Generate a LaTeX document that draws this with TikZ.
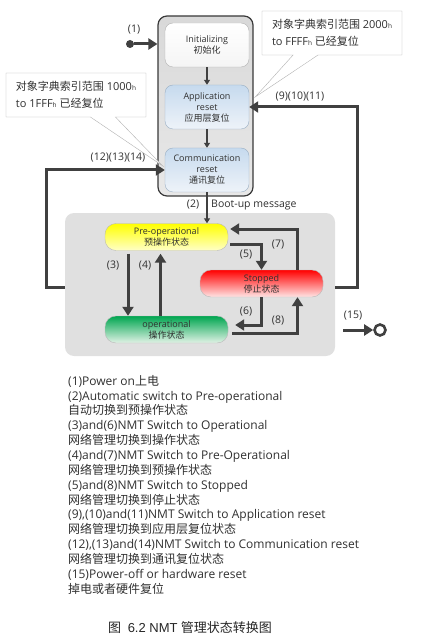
\documentclass[tikz,border=0pt]{standalone}
\usepackage{fontspec}
\setmainfont{Open Sans}
\newfontfamily\cjk{Noto Sans CJK SC}
\newfontfamily\capfont{Liberation Sans}
\usepackage{xcolor}
\usetikzlibrary{arrows.meta}
\usetikzlibrary{calc}
\usetikzlibrary{shapes.callouts,shadings}

\definecolor{arrowgray}{HTML}{404040}
\definecolor{textgray}{HTML}{303030}
\definecolor{resettop}{HTML}{C6DAEE}
\definecolor{resetbot}{HTML}{EEF3F9}
\definecolor{resetline}{HTML}{9AAFC4}
\definecolor{opertop}{HTML}{00A650}
\definecolor{operbot}{HTML}{E2F2E6}
\newcommand{\hsub}{{\fontsize{6.5}{7}\selectfont h}}

\begin{document}
\begin{tikzpicture}[x=1pt,y=-1pt,
		resetbox/.style={draw=#1, rounded corners=8pt, minimum width=84pt,
			minimum height=44pt, align=center, inner sep=1pt, text=textgray,
			font=\fontsize{9}{11}\selectfont},
		statebox/.style={draw=gray!55, rounded corners=11pt, minimum width=123pt,
			minimum height=27pt, align=center, inner sep=1pt, text=textgray,
			font=\fontsize{9}{11}\selectfont},
		bigarrow/.style={draw=arrowgray, line width=3pt, -{Triangle[length=9pt,width=11pt]}},
		thinarrow/.style={draw=arrowgray, line width=1.3pt, -{Triangle[length=5pt,width=6pt]}},
		note/.style={rectangle callout, draw=gray!60, fill=white, minimum width=140pt,
			minimum height=44pt, align=left, inner sep=4pt, callout pointer width=25pt,
			font=\fontsize{11}{17}\selectfont, text=textgray},
		lbl/.style={inner sep=0pt, text=textgray, font=\fontsize{10.5}{12}\selectfont}]
		
		\useasboundingbox (0,0) rectangle (422,644);
		
		% Reset group (gray frame)
		\node[draw=gray!45!black, line width=1.2pt, rounded corners=9pt,
		top color=gray!30, bottom color=gray!18, minimum width=95pt,
		minimum height=180pt] (resetgroup) at (205.5,106) {};
		
		% Operating group (light area)
		\node[fill=black!12, rounded corners=9pt, minimum width=270pt,
		minimum height=143pt] (opgroup) at (200,284.5) {};
		
		% Reset states
		\node[resetbox=gray!60, top color=white, bottom color=gray!8] (init) at (207,45)
		{Initializing\\{\cjk 初始化}};
		\node[resetbox=resetline, top color=resettop, bottom color=resetbot] (app) at (207,107)
		{Application\\reset\\{\cjk 应用层复位}};
		\node[resetbox=resetline, top color=resettop, bottom color=resetbot] (comm) at (207,170)
		{Communication\\reset\\{\cjk 通讯复位}};
		
		\draw[thinarrow] (init) -- (app);
		\draw[thinarrow] (app) -- (comm);
		
		% Operating states
		\node[statebox, top color=yellow, bottom color=yellow!22] (preop) at (166.5,237)
		{Pre-operational\\{\cjk 预操作状态}};
		\node[statebox, top color=red, bottom color=red!10] (stopped) at (261.5,283.5)
		{Stopped\\{\cjk 停止状态}};
		\node[statebox, top color=opertop, bottom color=operbot] (oper) at (166.5,329.5)
		{operational\\{\cjk 操作状态}};
		
		% (1) power on
		\node[circle, fill=arrowgray, minimum size=8pt, inner sep=0pt] (start) at (130,44) {};
		\draw[bigarrow] (start) -- (start -| resetgroup.west);
		\node[lbl] (lbl1) at (134,30) {(1)};
		
		% (2) boot-up
		\draw[thinarrow] (comm.south) -- (comm.south |- preop.north);
		\node[lbl] (lbl2) at (193,205) {(2)};
		\node[lbl, anchor=west] (boot) at (211,205) {Boot-up message};
		
		% (3) and (4)
		\draw[bigarrow, shorten <=3pt] ([xshift=-38.5pt]preop.south) -- ([xshift=-38.5pt]oper.north);
		\draw[bigarrow] ([xshift=-6pt]oper.north) -- ([xshift=-6pt,yshift=-3pt]preop.south);
		\node[lbl] (lbl3) at (113,266) {(3)};
		\node[lbl] (lbl4) at (145,266) {(4)};
		
		% (5) and (7)
		\draw[bigarrow] ([xshift=2pt,yshift=-7pt]preop.east) -| (stopped.north);
		\draw[bigarrow] ([xshift=36pt]stopped.north) |- ([xshift=2pt,yshift=8pt]preop.east);
		\node[lbl] (lbl5) at (246,255) {(5)};
		\node[lbl] (lbl7) at (278,245) {(7)};
		
		% (6) and (8)
		\draw[bigarrow] (stopped.south) |- ([xshift=7pt,yshift=4.5pt]oper.east);
		\draw[bigarrow] ([xshift=4pt,yshift=-3.5pt]oper.east) -| ([xshift=36pt]stopped.south);
		\node[lbl] (lbl6) at (246,312) {(6)};
		\node[lbl] (lbl8) at (278,321) {(8)};
		
		% (9)(10)(11) back to application reset
		\draw[bigarrow] ([yshift=-2.5pt]opgroup.east) -- ++(22,0) |- (app.east);
		\node[lbl] (lbl9) at (300,97) {(9)(10)(11)};
		
		% (12)(13)(14) back to communication reset
		\draw[bigarrow] ([yshift=-2.5pt]opgroup.west) -- ++(-18,0) |- (comm.west);
		\node[lbl] (lbl12) at (118,158) {(12)(13)(14)};
		
		% (15) power off
		\node[circle, draw=arrowgray, line width=2.6pt, minimum size=11pt, inner sep=0pt] (finish) at (380,330) {};
		\coordinate (offstart) at (343,330);
		\draw[bigarrow] (offstart) -- (finish.west);
		\node[lbl] (lbl15) at (353,316) {(15)};
		
		% Callouts
		\node[note, callout absolute pointer={($(app.east)+(6,-10)$)}] (noteapp) at (332,33)
		{{\cjk 对象字典索引范围} 2000\hsub\\to FFFF\hsub{} {\cjk 已经复位}};
		\node[note, callout absolute pointer={($(comm.west)+(-2,-4)$)}] (notecomm) at (76,95)
		{{\cjk 对象字典索引范围} 1000\hsub\\to 1FFF\hsub{} {\cjk 已经复位}};
		
		% Legend
		\node[anchor=north west, align=left, inner sep=0pt, text=textgray,
		font=\fontsize{12}{14.85}\selectfont] (legend) at (68,375)
		{(1)Power on{\cjk 上电}\\
			(2)Automatic switch to Pre-operational\\
			{\cjk 自动切换到预操作状态}\\
			(3)and(6)NMT Switch to Operational\\
			{\cjk 网络管理切换到操作状态}\\
			(4)and(7)NMT Switch to Pre-Operational\\
			{\cjk 网络管理切换到预操作状态}\\
			(5)and(8)NMT Switch to Stopped\\
			{\cjk 网络管理切换到停止状态}\\
			(9),(10)and(11)NMT Switch to Application reset\\
			{\cjk 网络管理切换到应用层复位状态}\\
			(12),(13)and(14)NMT Switch to Communication reset\\
			{\cjk 网络管理切换到通讯复位状态}\\
			(15)Power-off or hardware reset\\
			{\cjk 掉电或者硬件复位}};
		
		% Caption
		\node[inner sep=0pt, text=black!85, font=\fontsize{13}{14}\selectfont] (caption) at (190,628)
		{{\cjk 图}\ \ {\capfont 6.2 NMT} {\cjk 管理状态转换图}};
	\end{tikzpicture}
\end{document}
